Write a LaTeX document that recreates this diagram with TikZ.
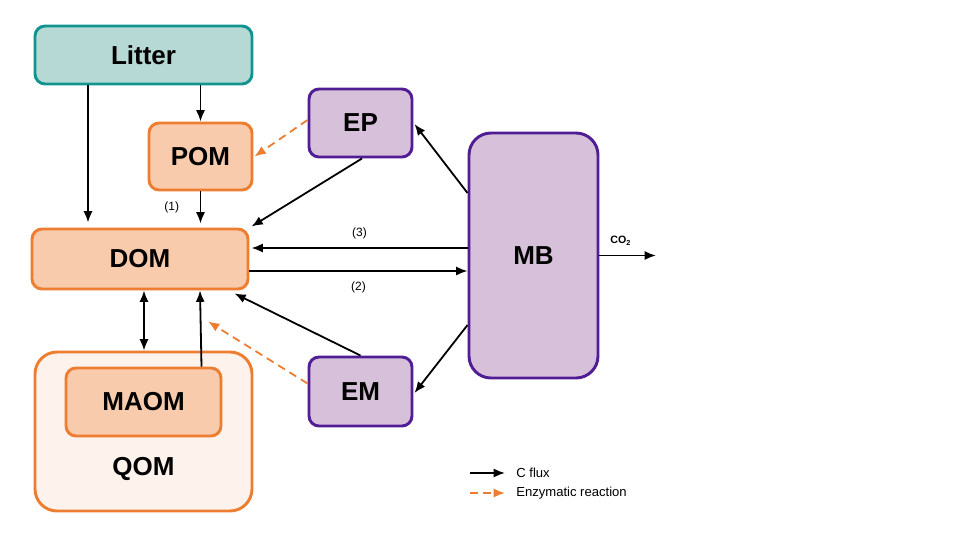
\documentclass[tikz,border=0pt]{standalone}
\usepackage{fontspec}
\setmainfont{Liberation Sans}
\usepackage{tikz}
\usetikzlibrary{
  positioning,
  arrows.meta
}
\usepackage{xcolor}
\definecolor{litterfill}{RGB}{182,217,214}
\definecolor{litterline}{RGB}{18,147,143}
\definecolor{omfill}{RGB}{248,203,173}
\definecolor{omline}{RGB}{237,125,49}
\definecolor{qomfill}{RGB}{253,243,236}
\definecolor{mbfill}{RGB}{214,192,218}
\definecolor{mbline}{RGB}{81,29,148}
\newdimen\px
\px=0.75pt

\begin{document}
\begin{tikzpicture}[x=0.75pt,y=-0.75pt,>={Latex[length=8.5pt,width=6.8pt]},
        pool/.style={draw, rounded corners=10\px, line width=2.2pt, font=\fontsize{19.5}{22}\selectfont\bfseries, inner sep=0pt},
        litter/.style={pool, fill=litterfill, draw=litterline},
        om/.style={pool, fill=omfill, draw=omline},
        micro/.style={pool, fill=mbfill, draw=mbline},
        flux/.style={->, line width=1.35pt},
        enzyme/.style={->, line width=1.35pt, draw=omline, dash pattern=on 6pt off 4pt, >={Latex[length=8.5pt,width=6.8pt,fill=omline]}},
        num/.style={font=\fontsize{9}{10}\selectfont}]
        \useasboundingbox (0,0) rectangle (960,540);

        % pools
        \node[litter, minimum width=217\px, minimum height=58\px] (Litter) at (143.5,55) {Litter};
        \node[om, minimum width=103\px, minimum height=67\px] (POM) at (200.5,156.5) {POM};
        \node[om, minimum width=216\px, minimum height=60\px] (DOM) at (140,259) {DOM};
        \node[om, fill=qomfill, rounded corners=22\px, minimum width=217\px, minimum height=159\px] (QOM) at (143.5,431.5) {};
        \node[om, minimum width=155\px, minimum height=68\px] (MAOM) at (143.5,402) {MAOM};
        \node[font=\fontsize{19.5}{22}\selectfont\bfseries] (QOMlabel) at (143.5,469) {QOM};
        \node[micro, minimum width=103\px, minimum height=68\px] (EP) at (360.5,123) {EP};
        \node[micro, minimum width=103\px, minimum height=69\px] (EM) at (360.5,391.5) {EM};
        \node[micro, rounded corners=22\px, minimum width=129\px, minimum height=245\px] (MB) at (533.5,255.5) {MB};
        \coordinate (CO2) at (656,255.5);

        % C fluxes
        \draw[flux] ([xshift=-55.5\px]Litter.south) -- ([xshift=-52\px,yshift=5\px]DOM.north);
        \draw[flux] ([xshift=57\px]Litter.south) -- (POM.north);
        \draw[flux] (POM.south) -- ([xshift=60.5\px,yshift=4\px]DOM.north)
            node[num, midway, left=16\px] {(1)};
        \draw[flux] ([xshift=1.5\px]EP.south) -- ([shift={(2\px,1\px)}]DOM.north east);
        \draw[flux] ([yshift=7.5\px]MB.west) -- ([shift={(2\px,11\px)}]DOM.east)
            node[num, midway, above=4\px] {(3)};
        \draw[flux] ([yshift=-12\px]DOM.east) -- ([yshift=-15.5\px]MB.west)
            node[num, midway, below=5\px] {(2)};
        \draw[flux] ([yshift=62.5\px]MB.west) -- ([shift={(1\px,-1\px)}]EP.east);
        \draw[flux] ([yshift=-69.5\px]MB.west) -- ([shift={(1\px,-1.5\px)}]EM.east);
        \draw[flux] (EM.north) -- ([shift={(-15\px,-3\px)}]DOM.south east);
        \draw[flux, <->] ([xshift=4\px]DOM.south) -- ([xshift=0.5\px]QOM.north);
        \draw[flux] ([xshift=58\px]MAOM.north) -- ([xshift=60\px]DOM.south);
        \draw[flux] (MB.east) -- (CO2)
            node[pos=0, above right=9\px and 10\px, font=\fontsize{8}{9}\selectfont\bfseries, inner sep=0pt] {CO\raisebox{-0.45ex}{\fontsize{5.5}{6}\selectfont 2}};

        % enzymatic reactions
        \draw[enzyme] ([yshift=3\px]EP.west) -- ([xshift=1\px]POM.east);
        \draw[enzyme] ([yshift=8\px]EM.west) -- ([shift={(68\px,-31\px)}]DOM.south);

        % legend
        \coordinate (lgA) at (470,473);
        \coordinate (lgB) at (505,473);
        \coordinate (lgC) at (470,493);
        \coordinate (lgD) at (505,493);
        \draw[flux] (lgA) -- (lgB) node[right=6\px, font=\fontsize{9.8}{11}\selectfont] {C flux};
        \draw[enzyme] (lgC) -- (lgD) node[right=6\px, font=\fontsize{9.8}{11}\selectfont, text=black] {Enzymatic reaction};
    \end{tikzpicture}
\end{document}
